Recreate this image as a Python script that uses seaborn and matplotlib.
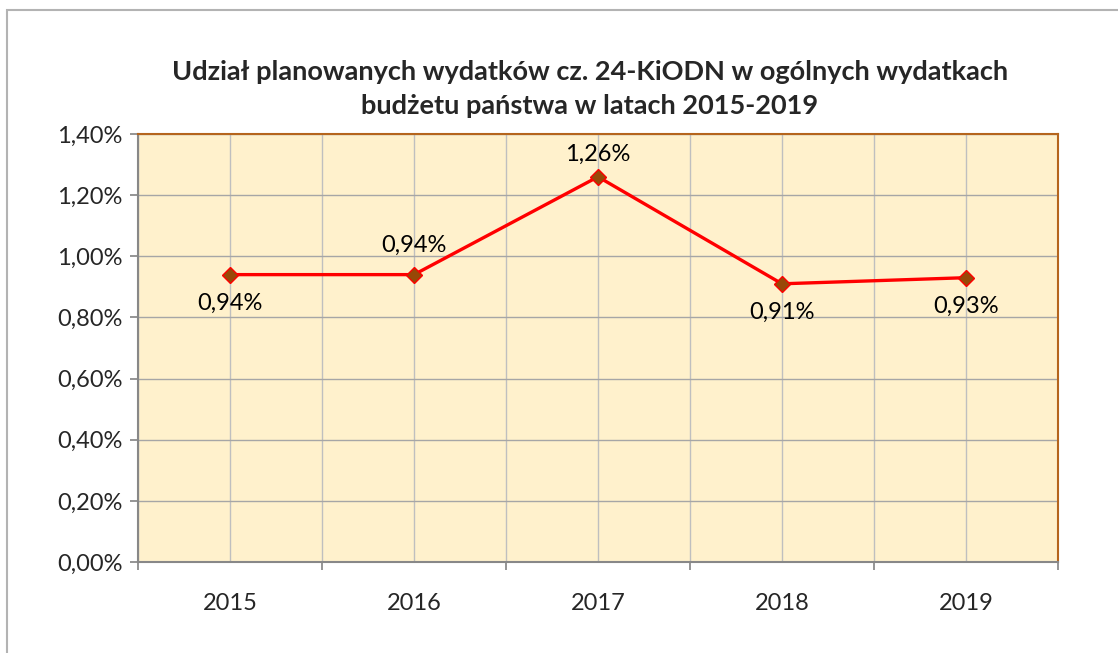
import matplotlib
matplotlib.use("Agg")
import matplotlib.pyplot as plt
import matplotlib.patches as mpatches
from matplotlib.ticker import FuncFormatter, MultipleLocator
import seaborn as sns
import pandas as pd

# Data
years = ["2015", "2016", "2017", "2018", "2019"]
shares = [0.94, 0.94, 1.26, 0.91, 0.93]
label_pos = ["below", "above", "above", "below", "below"]

title = ("Udział planowanych wydatków cz. 24-KiODN w ogólnych wydatkach\n"
         "budżetu państwa w latach 2015-2019")

sns.set_theme(style="white")
plt.rcParams["font.family"] = ["Lato", "DejaVu Sans"]

df = pd.DataFrame({"x": range(len(years)), "share": shares})

fig = plt.figure(figsize=(11.18, 6.53), dpi=100)
ax = fig.add_axes([138 / 1118, 1 - 562 / 653, 920 / 1118, 428 / 653])

# outer chart-area frame
fig.patches.append(mpatches.Rectangle(
    (7 / 1118, -0.1), 1.2, 1 - 10 / 653 + 0.1, transform=fig.transFigure,
    fill=False, edgecolor="#b3b3b3", linewidth=1.5))

ax.set_facecolor("#fff1cc")

sns.lineplot(data=df, x="x", y="share", ax=ax, color="#ff0000", linewidth=2.4,
             marker="D", markersize=8, markerfacecolor="#984807",
             markeredgecolor="#ff0000", markeredgewidth=1.0, zorder=3)

for i, (v, pos) in enumerate(zip(shares, label_pos)):
    txt = f"{v:.2f}%".replace(".", ",")
    dy = 0.095 if pos == "above" else -0.095
    if i == 2:
        dy = 0.072
    ax.text(i, v + dy, txt, ha="center", va="center", fontsize=17, color="black")

ax.set_xlim(-0.5, len(years) - 0.5)
ax.set_ylim(0, 1.4)
ax.yaxis.set_major_locator(MultipleLocator(0.2))
ax.yaxis.set_major_formatter(FuncFormatter(lambda v, p: f"{v:.2f}%".replace(".", ",")))

# vertical grid at category centres and boundaries
ax.set_xticks([i - 0.5 for i in range(len(years) + 1)])
ax.set_xticklabels([])
ax.set_xticks(range(len(years)), minor=True)
ax.set_xticklabels(years, minor=True)
ax.grid(True, which="both", axis="x", color="#bfbfbf", linewidth=1)
ax.grid(True, which="major", axis="y", color="#a6a6a6", linewidth=1)
ax.set_axisbelow(True)

ax.tick_params(axis="x", which="major", length=6, color="#888888", direction="out", bottom=True)
ax.tick_params(axis="x", which="minor", length=0, labelsize=17, pad=22)
ax.tick_params(axis="y", length=6, color="#888888", direction="out", left=True,
               labelsize=17, pad=5)

for side in ["left", "bottom"]:
    ax.spines[side].set_color("#888888")
    ax.spines[side].set_linewidth(1.5)
for side in ["top", "right"]:
    ax.spines[side].set_color("#b5651d")
    ax.spines[side].set_linewidth(1.5)

ax.set_xlabel("")
ax.set_ylabel("")

fig.text(590 / 1118, 1 - 89 / 653, title, ha="center", va="center",
         fontsize=19.5, fontweight="bold", linespacing=1.45)

fig.savefig("out.png", dpi=100)
plt.close(fig)
